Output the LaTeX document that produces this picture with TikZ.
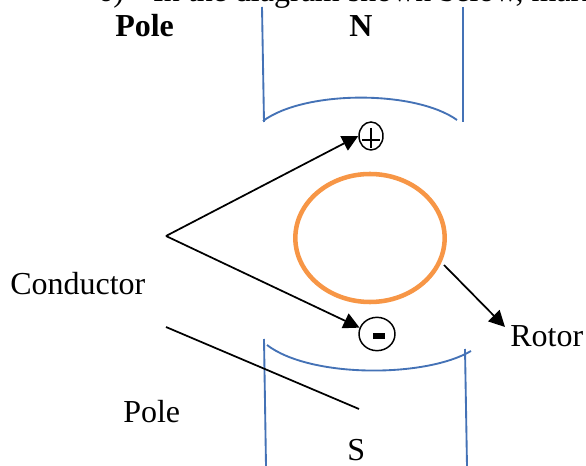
\documentclass[tikz,border=0pt]{standalone}
\usepackage{fontspec}
\setmainfont{Liberation Serif}
\usetikzlibrary{arrows.meta, positioning, shapes.geometric}
\definecolor{polelineblue}{RGB}{68,114,182}
\definecolor{rotororange}{RGB}{247,150,70}
\tikzset{
  poleline/.style={polelineblue, line width=1.4pt},
  pointer/.style={black, line width=1.3pt, -{Triangle[length=12pt,width=12pt]}},
  label/.style={font=\fontsize{24pt}{28pt}\selectfont, inner sep=0pt, anchor=base west},
  boldlabel/.style={label, font=\fontsize{24pt}{28pt}\selectfont\bfseries},
  terminal/.style={ellipse, draw=black, line width=1.1pt, inner sep=0pt}
}
\begin{document}
\begin{tikzpicture}[x=0.75pt, y=-0.75pt]
  \useasboundingbox (0,0) rectangle (586,466);
  % Clipped heading
  \begin{scope}
    \clip (0,0) rectangle (586,466);
    \node[label] (heading) at (97,2) {6)\hspace{22pt}In the diagram shown below, mark};
  \end{scope}
  % North pole
  \draw[poleline] (262,7) -- (264,122);
  \draw[poleline] (463,7) -- (463,122);
  \draw[poleline] (263,121) .. controls (305,90) and (415,90) .. (457,120);
  \node[boldlabel] (north) at (349,37) {N};
  \node[boldlabel] (poletop) at (115,37) {Pole};
  % South pole
  \draw[poleline] (264,339) -- (266,466);
  \draw[poleline] (465,349) -- (467,466);
  \draw[poleline] (267,345) .. controls (310,378) and (425,378) .. (471,351);
  \node[label] (south) at (347,461) {S};
  \node[label] (polebottom) at (123,423) {Pole};
  % Rotor
  \node[ellipse, draw=rotororange, line width=3.4pt, minimum width=112pt, minimum height=96pt, inner sep=0pt] (rotor) at (370,238) {};
  % Terminals
  \node[terminal, minimum width=18pt, minimum height=21pt] (plus) at (371,136) {};
  \draw[line width=0.9pt] (371,128) -- (371,148) (362,140) -- (380,140);
  \node[terminal, minimum width=27pt, minimum height=25pt] (minus) at (377,334) {};
  \fill (373,333) rectangle (385,339);
  % Conductor pointers
  \coordinate (fork) at (166,236);
  \draw[pointer] (fork) -- (plus.west);
  \draw[pointer] (fork) -- (minus.160);
  \coordinate (polefoot) at (166,327);
  \coordinate (poleend) at (359,409);
  \draw[black, line width=1.3pt] (polefoot) -- (poleend);
  % Rotor pointer
  \coordinate (rotorend) at (444,265);
  \coordinate (rotortip) at (505,327);
  \draw[pointer] (rotorend) -- (rotortip);
  \node[label] (conductor) at (10,295) {Conductor};
  \node[label] (rotorlabel) at (510,347) {Rotor};
\end{tikzpicture}
\end{document}
